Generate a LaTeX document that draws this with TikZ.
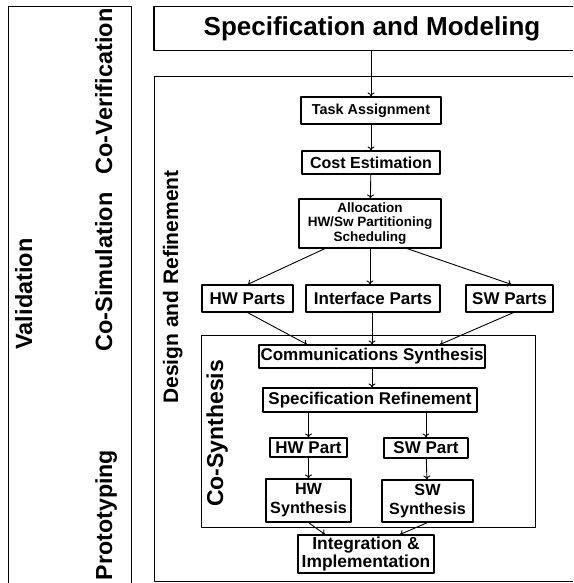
\documentclass[tikz,border=0pt]{standalone}
\usepackage{fontspec}
\setmainfont{Liberation Sans}
\usetikzlibrary{arrows.meta}
\tikzset{
    box/.style={
        draw, line width=1.1pt, inner sep=0pt, align=center,
        font=\bfseries\fontsize{17}{19}\selectfont
    },
    lab/.style={
        rotate=90, inner sep=0pt, anchor=base,
        font=\bfseries\fontsize{23.5}{28}\selectfont
    },
    frame/.style={draw, line width=0.9pt},
    arr/.style={-{To[length=4pt,width=7pt]}, line width=0.9pt}
}

\begin{document}
\begin{tikzpicture}[x=1pt,y=-1pt,line cap=round,line join=round]
    \clip (0,0) rectangle (573,583);

% --- frames ---
    \draw[frame] (8,6) rectangle (131,600);        % validation column
    \draw[frame] (154,76) rectangle (600,581);     % design and refinement
    \draw[frame] (201,335) rectangle (535,527);    % co-synthesis

% --- top box ---
    \node[box, minimum width=436pt, minimum height=43.7pt,
          font=\bfseries\fontsize{26}{30}\selectfont] (spec) at (372,28.8) {Specification and Modeling};

% --- design steps ---
    \node[box, minimum width=140pt, minimum height=27pt,
          font=\bfseries\fontsize{14.4}{16}\selectfont] (task) at (371,110.5) {Task Assignment};
    \node[box, minimum width=138pt, minimum height=23pt,
          font=\bfseries\fontsize{16}{18}\selectfont] (cost) at (371,162.5) {Cost Estimation};
    \node[box, minimum width=142pt, minimum height=49pt,
          font=\bfseries\fontsize{13.5}{14.5}\selectfont] (alloc) at (370,223.5) {Allocation\\HW/Sw Partitioning\\Scheduling};

% parts
    \node[box, minimum width=91pt, minimum height=27pt] (hwparts) at (247.5,298.5) {HW Parts};
    \node[box, minimum width=134pt, minimum height=27pt] (ifparts) at (373,298.5) {Interface Parts};
    \node[box, minimum width=87pt, minimum height=27pt] (swparts) at (509.5,298.5) {SW Parts};

% co-synthesis
    \node[box, minimum width=226pt, minimum height=23pt] (comm) at (372,356.5) {Communications Synthesis};
    \node[box, minimum width=214pt, minimum height=24pt] (specref) at (370,400) {Specification Refinement};
    \node[box, minimum width=77pt, minimum height=19pt] (hwpart) at (308.5,447.5) {HW Part};
    \node[box, minimum width=84pt, minimum height=20pt] (swpart) at (426,448) {SW Part};
    \node[box, minimum width=85pt, minimum height=43pt,
          font=\bfseries\fontsize{16.2}{19}\selectfont] (hwsyn) at (308.5,500.5) {HW\\Synthesis};
    \node[box, minimum width=91pt, minimum height=42pt,
          font=\bfseries\fontsize{16.2}{19}\selectfont] (swsyn) at (427.5,501) {SW\\Synthesis};
    \node[box, minimum width=136pt, minimum height=38pt,
          font=\bfseries\fontsize{17.4}{18}\selectfont] (integ) at (366,554) {Integration \&\\Implementation};

% --- side labels (base point: baseline x, middle y) ---
    \node[lab] (valid) at (32,294) {Validation};
    \node[lab] (cosim) at (112,272) {Co-Simulation};
    \node[lab] (cover) at (112,91.5) {Co-Verification};
    \node[lab, font=\bfseries\fontsize{23.2}{28}\selectfont] (proto) at (112,515) {Prototyping};
    \node[lab, font=\bfseries\fontsize{21}{25}\selectfont] (design) at (178,287) {Design and Refinement};
    \node[lab, font=\bfseries\fontsize{23}{28}\selectfont] (cosyn) at (223,433.5) {Co-Synthesis};

% --- arrows ---
    \draw[arr] (task.north |- spec.south) -- (task.north);
    \draw[arr] (task) -- (cost);
    \draw[arr] (cost) -- (alloc);
    \draw[arr] ([xshift=-45pt]alloc.south) -- (hwparts.north);
    \draw[arr] (alloc.south) -- (alloc.south |- ifparts.north);
    \draw[arr] ([xshift=37pt]alloc.south) -- ([xshift=2pt]swparts.north);
    \draw[arr] (hwparts.south) -- ([xshift=-65pt]comm.north);
    \draw[arr] (ifparts.south -| comm.north) -- (comm.north);
    \draw[arr] ([xshift=4pt]swparts.south) -- ([xshift=68pt]comm.north);
    \draw[arr] (comm.south) -- (comm.south |- specref.north);
    \draw[arr] (hwpart.north |- specref.south) -- (hwpart.north);
    \draw[arr] (swpart.north |- specref.south) -- (swpart.north);
    \draw[arr] (hwpart) -- (hwsyn);
    \draw[arr] (swpart) -- (swsyn);
    \draw[arr] (hwsyn.south) -- ([xshift=-41pt]integ.north);
    \draw[arr] (swsyn.south) -- ([xshift=34pt]integ.north);

\end{tikzpicture}
\end{document}
